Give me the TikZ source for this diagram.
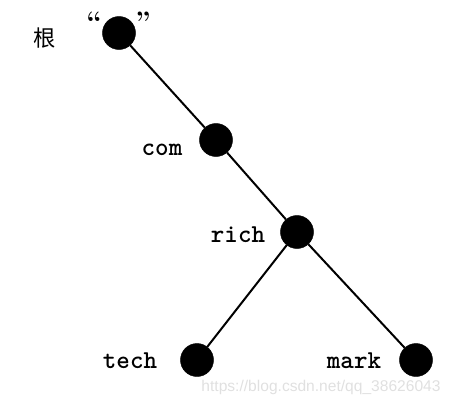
\documentclass[tikz,border=0pt]{standalone}
\usepackage{fontspec}
\newfontfamily\cjk{Noto Sans CJK SC}
\newfontfamily\markfont{Liberation Sans}
\usepackage{tikz}
\tikzstyle{vertex}=[circle, draw, fill=black, inner sep=0pt, minimum size=0.99cm]
\tikzstyle{edge}=[line width=1.7pt]
\tikzstyle{labelsty}=[font=\fontsize{22}{22}\selectfont\ttfamily\bfseries, inner sep=0pt, anchor=base]

\begin{document}
\begin{tikzpicture}[x=0.03cm,y=-0.03cm]
	\useasboundingbox (0,0) rectangle (453,409);

	\node[vertex] (root) at (119,33) {};
	\node[vertex] (com) at (216,140) {};
	\node[vertex] (rich) at (297,232) {};
	\node[vertex] (tech) at (197,360) {};
	\node[vertex] (mark) at (416,360) {};

	\node[font=\cjk\fontsize{19}{19}\selectfont, inner sep=0pt] (rootlbl) at (45,38) {根};
	\node[font=\fontsize{24}{24}\selectfont\bfseries, inner sep=0pt] (lq) at (94,22) {“};
	\node[font=\fontsize{24}{24}\selectfont\bfseries, inner sep=0pt] (rq) at (143,22) {”};
	\node[labelsty] (comlbl) at (162,155) {com};
	\node[labelsty] (richlbl) at (238,242) {rich};
	\node[labelsty] (techlbl) at (130,368) {tech};
	\node[labelsty] (marklbl) at (354,368) {mark};

	\draw[edge] (root)--(com);
	\draw[edge] (com)--(rich);
	\draw[edge] (rich)--(tech);
	\draw[edge] (rich)--(mark);

	\node[font=\markfont\fontsize{13.3}{13.3}\selectfont, text=black!12, inner sep=0pt] (wm) at (321,387) {https://blog.csdn.net/qq\_38626043};
\end{tikzpicture}
\end{document}
